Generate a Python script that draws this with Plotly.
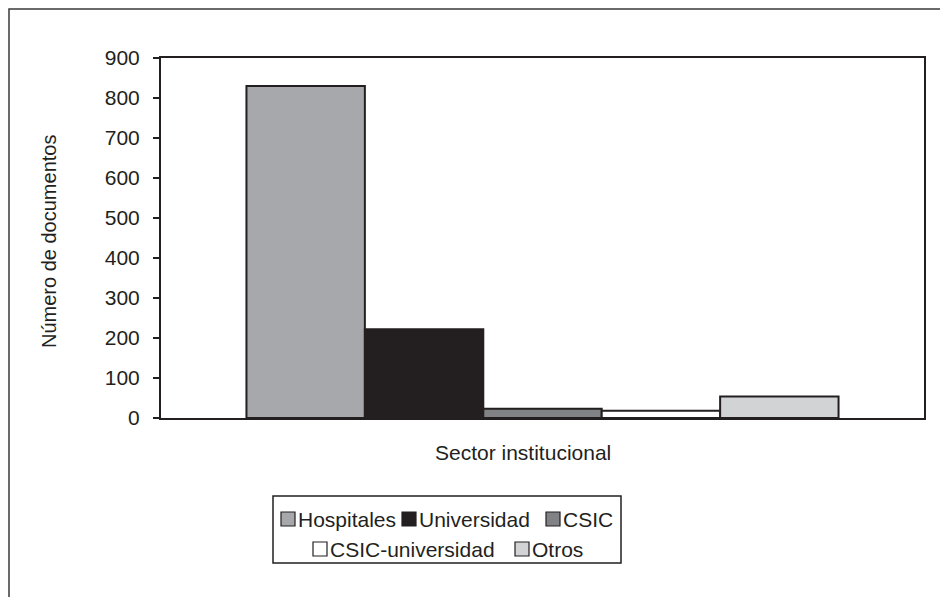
import plotly.graph_objects as go

# ---- data ----
series = ["Hospitales", "Universidad", "CSIC", "CSIC-universidad", "Otros"]
values = [830, 222, 23, 18, 54]
colors = ["#a7a8ab", "#231f20", "#808285", "#ffffff", "#d1d3d4"]
category = ["Sector institucional"]
y_ticks = [0, 100, 200, 300, 400, 500, 600, 700, 800, 900]

W_PX, H_PX = 940, 597
L, R, T, B = 161, 16, 58, 179
PW, PH = W_PX - L - R, H_PX - T - B
INK = "#231f20"
FONT = "Liberation Sans, Arial, sans-serif"


def px(x):
    return (x - L) / PW


def py(y):
    return (H_PX - B - y) / PH


fig = go.Figure()
for name, val, col in zip(series, values, colors):
    fig.add_trace(go.Bar(
        x=category, y=[val], name=name,
        marker=dict(color=col, line=dict(color=INK, width=2)),
        showlegend=False,
    ))

shapes = []
annotations = []

# outer chart frame
shapes.append(dict(type="rect", xref="paper", yref="paper",
                   x0=px(9), x1=px(960), y0=py(620), y1=py(9),
                   line=dict(color="#3a3a3a", width=1.5), layer="below"))

# legend box
shapes.append(dict(type="rect", xref="paper", yref="paper",
                   x0=px(273), x1=px(621), y0=py(563), y1=py(496),
                   line=dict(color=INK, width=1.5)))

# legend entries: (square left x, row center y)
legend_pos = [(281, 519), (402, 519), (546, 519), (313, 549), (515, 549)]
for name, col, (sx, cy) in zip(series, colors, legend_pos):
    shapes.append(dict(type="rect", xref="paper", yref="paper",
                       x0=px(sx), x1=px(sx + 14), y0=py(cy + 7), y1=py(cy - 7),
                       fillcolor=col, line=dict(color=INK, width=1.2)))
    annotations.append(dict(xref="paper", yref="paper", x=px(sx + 15), y=py(cy),
                            text=name, showarrow=False, xanchor="left",
                            yanchor="middle",
                            font=dict(family=FONT, size=21, color=INK)))

# axis titles
annotations.append(dict(xref="paper", yref="paper", x=px(523), y=py(452),
                        text="Sector institucional", showarrow=False,
                        xanchor="center", yanchor="middle",
                        font=dict(family=FONT, size=21, color=INK)))
annotations.append(dict(xref="paper", yref="paper", x=px(49), y=py(242),
                        text="Número de documentos", showarrow=False,
                        textangle=-90, xanchor="center", yanchor="middle",
                        font=dict(family=FONT, size=20, color=INK)))

fig.update_layout(
    width=W_PX, height=H_PX,
    margin=dict(l=L, r=R, t=T, b=B, pad=0),
    paper_bgcolor="white", plot_bgcolor="white",
    barmode="group", bargap=0.224, bargroupgap=0,
    font=dict(family=FONT, size=21, color=INK),
    shapes=shapes, annotations=annotations,
    showlegend=False,
)
fig.update_xaxes(showticklabels=False, ticks="", showgrid=False,
                 showline=True, linecolor=INK, linewidth=2, mirror=True)
fig.update_yaxes(range=[0, 900], tickvals=y_ticks, ticks="outside", ticklen=6,
                 tickwidth=2, tickcolor=INK, showgrid=False, zeroline=False,
                 showline=True, linecolor=INK, linewidth=2, mirror=True,
                 ticklabelstandoff=9, tickfont=dict(family=FONT, size=21, color=INK))

fig.write_html("out.html")
